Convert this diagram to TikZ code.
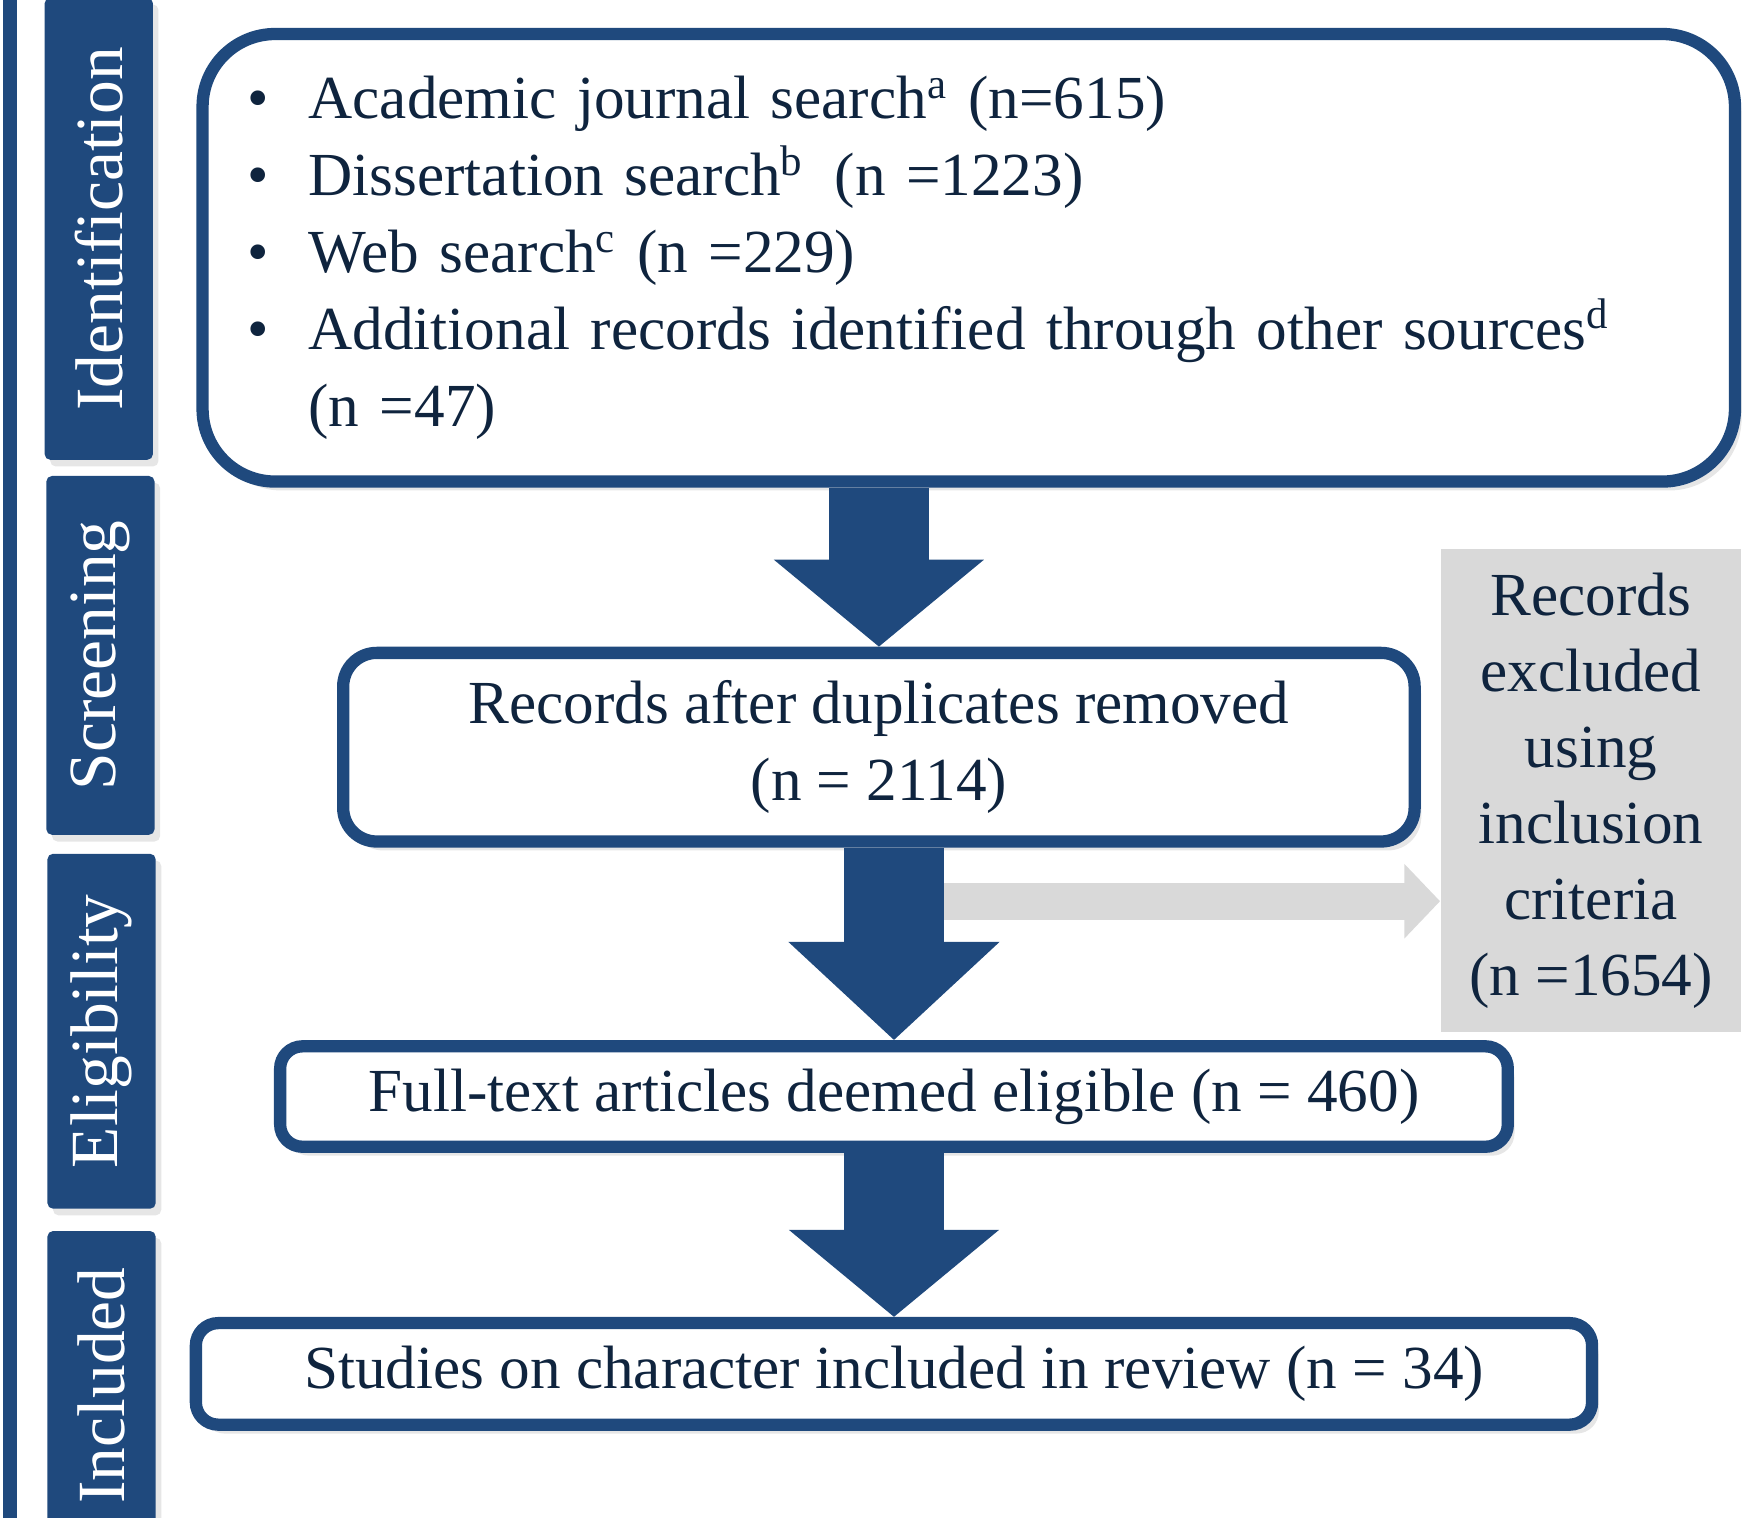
\documentclass[tikz,border=0pt]{standalone}
\usepackage{fontspec}
\setmainfont{Liberation Serif}
\usetikzlibrary{positioning,arrows.meta,calc,shadows}
\definecolor{navy}{RGB}{31,73,125}
\definecolor{ink}{RGB}{15,36,62}
\definecolor{lgray}{RGB}{217,217,217}
\tikzset{
  tab/.style={fill=navy, rounded corners=0.5mm, rotate=90, minimum height=0.97cm,
              inner sep=0pt, text=white, font=\fontsize{17.2}{20}\selectfont,
              drop shadow={shadow xshift=0.5mm, shadow yshift=-0.6mm, opacity=0.2}},
  box/.style={draw=navy, line width=1.1mm, fill=white, align=center, text=ink,
              inner sep=0pt, font=\fontsize{15.6}{19.6}\selectfont,
              drop shadow={shadow xshift=0.6mm, shadow yshift=-0.8mm, opacity=0.2}},
  grey/.style={fill=lgray, align=center, text=ink, inner sep=0pt,
              font=\fontsize{15.6}{19.35}\selectfont},
  bigarr/.style={draw=navy, line width=9mm, -{Triangle[length=#1, width=18.4mm]}},
  bigarr/.default=7.8mm,
  garr/.style={draw=lgray, line width=3.3mm, -{Triangle[length=3.2mm, width=6.5mm]}},
}
\newcommand{\bul}{\makebox[5.5mm][l]{\textbullet}}

\begin{document}
\begin{tikzpicture}
  \useasboundingbox (0,0) rectangle (15.68,13.6);
  \fill[navy] (0.03,0) rectangle (0.15,13.6);

  % ---- phase tabs ----------------------------------------------------
  \node[tab, minimum width=4.14cm]  (tid)   at (0.885,11.55)  {Identification};
  \node[tab, minimum width=3.215cm] (tscr)  at (0.90,7.7275)  {Screening};
  \node[tab, minimum width=3.18cm]  (telig) at (0.91,4.36)    {Eligibility};
  \node[tab, minimum width=2.77cm]  (tincl) at (0.91,1.185)   {Included};

  % ---- flow boxes ----------------------------------------------------
  \node[box, rounded corners=6.5mm, minimum width=13.73cm, minimum height=4.01cm,
        text width=12.93cm, align=left] (id) at (8.68,11.29)
    {\bul Academic journal search\textsuperscript{a} (n=615)\\
     \bul Dissertation search\textsuperscript{b}\, (n =1223)\\
     \bul Web search\textsuperscript{c} (n =229)\\
     \bul Additional records identified through other sources\textsuperscript{d}\\
     \hspace*{5.5mm}(n =47)};
  \node[box, rounded corners=3mm, minimum width=9.60cm, minimum height=1.69cm]
    (dedup) at (7.875,6.905) {Records after duplicates removed\\(n = 2114)};
  \node[box, rounded corners=2mm, minimum width=11.0cm, minimum height=0.90cm]
    (elig) at (8.01,3.775) {Full-text articles deemed eligible (n = 460)};
  \node[box, rounded corners=2mm, minimum width=12.51cm, minimum height=0.91cm]
    (incl) at (8.01,1.29) {Studies on character included in review (n = 34)};
  \node[grey, minimum width=2.69cm, minimum height=4.33cm] (excl) at (14.255,6.515)
    {Records\\excluded\\using\\inclusion\\criteria\\(n =1654)};

  % ---- arrows --------------------------------------------------------
  \coordinate (split) at ($(dedup.south -| elig.north)+(0,-0.48)$);
  \draw[garr] (split) -- (split -| excl.west);
  \draw[bigarr] (dedup.north |- id.south) -- (dedup.north);
  \draw[bigarr=8.8mm] (elig.north |- dedup.south) -- (elig.north);
  \draw[bigarr] (elig.south) -- (incl.north);
\end{tikzpicture}
\end{document}
